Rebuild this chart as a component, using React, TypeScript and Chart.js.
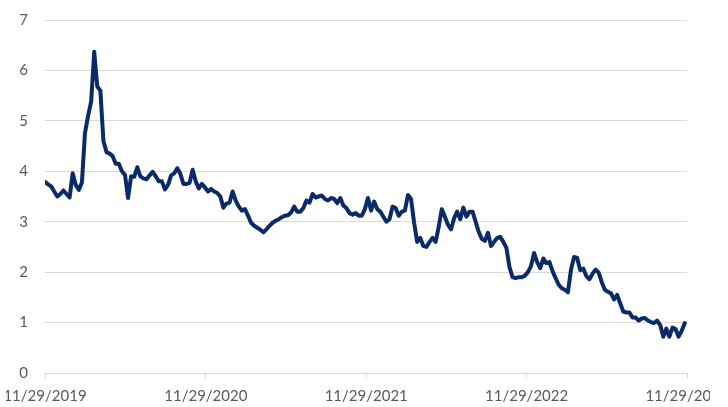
import React, { useEffect, useRef } from "react";
import { Chart, registerables } from "chart.js";

Chart.register(...registerables);

// Weekly observations starting 11/29/2019
const STEP_DAYS = 7;
const VALUES = [
  3.79, 3.74, 3.7, 3.6, 3.5, 3.55, 3.62, 3.55, 3.48, 3.96,
  3.73, 3.63, 3.78, 4.76, 5.1, 5.38, 6.37, 5.68, 5.6, 4.6,
  4.38, 4.35, 4.3, 4.15, 4.15, 4.0, 3.93, 3.47, 3.9, 3.89,
  4.08, 3.9, 3.86, 3.84, 3.92, 3.99, 3.9, 3.8, 3.8, 3.64,
  3.73, 3.92, 3.96, 4.06, 3.95, 3.75, 3.75, 3.77, 4.03, 3.8,
  3.66, 3.75, 3.68, 3.6, 3.65, 3.6, 3.57, 3.5, 3.28, 3.36,
  3.38, 3.6, 3.42, 3.3, 3.22, 3.25, 3.12, 2.98, 2.92, 2.88,
  2.84, 2.79, 2.85, 2.92, 2.98, 3.02, 3.05, 3.09, 3.12, 3.13,
  3.18, 3.3, 3.2, 3.2, 3.27, 3.42, 3.38, 3.55, 3.48, 3.5,
  3.52, 3.45, 3.42, 3.47, 3.45, 3.37, 3.47, 3.32, 3.27, 3.17,
  3.14, 3.17, 3.12, 3.12, 3.25, 3.47, 3.22, 3.4, 3.25, 3.2,
  3.1, 3.0, 3.05, 3.3, 3.27, 3.12, 3.2, 3.22, 3.53, 3.45,
  2.98, 2.6, 2.68, 2.52, 2.5, 2.6, 2.68, 2.6, 2.9, 3.25,
  3.1, 2.94, 2.85, 3.07, 3.2, 3.05, 3.28, 3.1, 3.2, 3.2,
  3.0, 2.8, 2.66, 2.62, 2.78, 2.52, 2.6, 2.68, 2.7, 2.6,
  2.48, 2.1, 1.9, 1.88, 1.9, 1.9, 1.93, 2.0, 2.12, 2.38,
  2.2, 2.08, 2.27, 2.18, 2.2, 2.02, 1.88, 1.75, 1.68, 1.65,
  1.6, 2.05, 2.3, 2.28, 2.04, 2.07, 1.92, 1.86, 1.97, 2.05,
  1.99, 1.8, 1.65, 1.61, 1.58, 1.46, 1.55, 1.38, 1.22, 1.2,
  1.2, 1.1, 1.1, 1.04, 1.08, 1.09, 1.04, 1.01, 0.99, 1.04,
  0.95, 0.72, 0.88, 0.72, 0.9, 0.87, 0.72, 0.84, 0.99,
];

// X-axis ticks (days since 11/29/2019) and their labels
const TICK_DAYS = [0, 366, 731, 1096, 1461];
const TICK_LABELS = ["11/29/2019", "11/29/2020", "11/29/2021", "11/29/2022", "11/29/2023"];
const Y_MIN = 0;
const Y_MAX = 7;

export default function App() {
  const ref = useRef<HTMLCanvasElement | null>(null);

  useEffect(() => {
    if (!ref.current) return;
    const font = { family: "Lato", size: 15 };
    const chart = new Chart(ref.current, {
      type: "line",
      data: {
        datasets: [
          {
            data: VALUES.map((v, i) => ({ x: i * STEP_DAYS, y: v })),
            borderColor: "#0b2a68",
            backgroundColor: "#0b2a68",
            borderWidth: 4,
            pointRadius: 0,
            tension: 0,
            fill: false,
            borderJoinStyle: "round",
            borderCapStyle: "round",
          },
        ],
      },
      options: {
        animation: false,
        responsive: false,
        devicePixelRatio: 1,
        layout: { padding: { top: 20, right: 41, left: 0, bottom: 0 } },
        plugins: { legend: { display: false }, tooltip: { enabled: false } },
        scales: {
          x: {
            type: "linear",
            min: TICK_DAYS[0],
            max: TICK_DAYS[TICK_DAYS.length - 1],
            afterBuildTicks: (s: any) => {
              s.ticks = TICK_DAYS.map((v) => ({ value: v }));
            },
            afterFit: (s: any) => {
              s.height = 34;
              s.paddingLeft = 0;
              s.paddingRight = 0;
            },
            ticks: {
              autoSkip: false,
              maxRotation: 0,
              padding: 9,
              color: "#595959",
              font,
              callback: (_v: any, i: number) => TICK_LABELS[i],
            },
            grid: {
              drawOnChartArea: false,
              drawTicks: true,
              tickLength: 5,
              color: "#d9d9d9",
            },
            border: { display: false },
          },
          y: {
            min: Y_MIN,
            max: Y_MAX,
            afterFit: (s: any) => {
              s.width = 45;
              s.paddingTop = 0;
              s.paddingBottom = 0;
            },
            ticks: { stepSize: 1, padding: 17, color: "#595959", font },
            grid: { color: "#d9d9d9", drawTicks: false, lineWidth: 1 },
            border: { display: false },
          },
        },
      },
    } as any);
    return () => chart.destroy();
  }, []);

  return (
    <div
      style={{
        position: "fixed",
        left: 6,
        top: 0,
        width: 704,
        height: 407,
        overflow: "hidden",
        background: "#fff",
      }}
    >
      <canvas
        ref={ref}
        width={728}
        height={407}
        style={{ position: "absolute", left: -6, top: 0, width: 728, height: 407 }}
      />
    </div>
  );
}
